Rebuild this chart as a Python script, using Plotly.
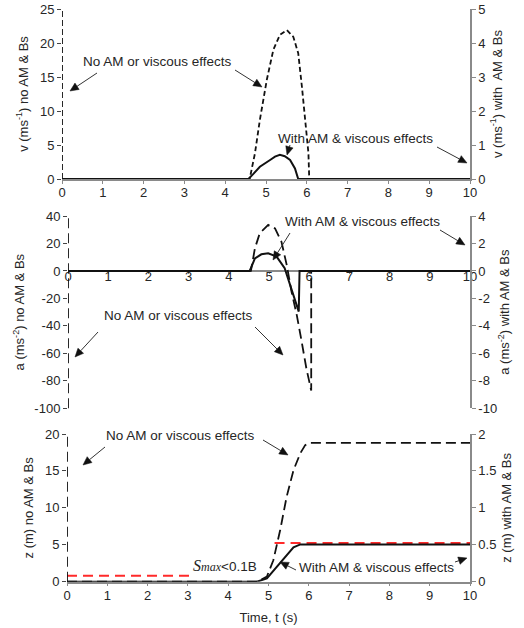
import plotly.graph_objects as go
import math

# ---------------- data ----------------
t_ticks = list(range(0, 11))

# velocity panel
t_v_no = [0, 4.6, 4.73, 4.85, 5.02, 5.18, 5.34, 5.51, 5.67, 5.79, 5.88, 5.96, 6.04, 6.06, 10]
v_no = [0, 0, 3.8, 8.7, 14.6, 19.0, 21.2, 21.9, 20.9, 18.5, 13.6, 8.7, 3.8, 0, 0]
t_v_with = [0, 4.57, 4.69, 4.85, 5.10, 5.22, 5.34, 5.46, 5.59, 5.71, 5.79, 10]
v_with = [0, 0, 0.15, 0.36, 0.56, 0.66, 0.71, 0.67, 0.56, 0.31, 0, 0]

# acceleration panel
t_a_no = [0, 4.55, 4.65, 4.77, 4.98, 5.15, 5.31, 5.44, 5.56, 5.69, 5.81, 5.93, 6.05, 6.05, 10]
a_no = [0, 0, 16.5, 27.4, 33.5, 31.0, 21.3, 4.4, -15, -32, -51, -71, -87, 0, 0]
t_a_with = [0, 4.52, 4.65, 4.81, 4.98, 5.19, 5.39, 5.56, 5.74, 5.76, 10]
a_with = [0, 0, 0.92, 1.21, 1.28, 1.04, 0.2, -1.26, -2.96, 0, 0]

# displacement panel
t_z_no = [0, 4.72, 4.96, 5.12, 5.29, 5.45, 5.62, 5.79, 5.91, 6.03, 10]
z_no = [0, 0, 0.7, 2.9, 7.0, 11.5, 15.1, 17.4, 18.5, 18.8, 18.8]
t_z_with = [0, 4.71, 4.96, 5.21, 5.45, 5.62, 5.79, 10]
z_with = [0, 0, 0.045, 0.2, 0.36, 0.465, 0.505, 0.505]

# settlement thresholds (left axis units)
t_thr_low = [0, 3.15]
thr_low = [0.8, 0.8]
t_thr_high = [5.15, 10]
thr_high = [5.25, 5.25]

# tick values / labels
v_left_ticks = [0, 5, 10, 15, 20, 25]
v_right_ticks = [0, 1, 2, 3, 4, 5]
a_left_ticks = [-100, -80, -60, -40, -20, 0, 20, 40]
a_right_ticks = [-10, -8, -6, -4, -2, 0, 2, 4]
z_left_ticks = [0, 5, 10, 15, 20]
z_right_ticks = [0, 0.5, 1, 1.5, 2]

# ---------------- layout helpers ----------------
W, H = 524, 628
FONT = "Liberation Sans, Arial, sans-serif"
TXT = "#262626"
GRAY = "#8a8a8a"
BLK = "#111111"


def px(x):
    return x / W


def py(y):
    return 1 - y / H


def tt(vals):
    return [("%g" % v) for v in vals]


fig = go.Figure()

fig.add_trace(go.Scatter(x=t_v_no, y=v_no, xaxis="x", yaxis="y", mode="lines",
                         line=dict(color=BLK, width=1.8, dash="5px,3px")))
fig.add_trace(go.Scatter(x=t_v_with, y=v_with, xaxis="x", yaxis="y2", mode="lines",
                         line=dict(color=BLK, width=2)))

fig.add_trace(go.Scatter(x=t_a_no, y=a_no, xaxis="x2", yaxis="y3", mode="lines",
                         line=dict(color=BLK, width=1.8, dash="10px,5px")))
fig.add_trace(go.Scatter(x=t_a_with, y=a_with, xaxis="x2", yaxis="y4", mode="lines",
                         line=dict(color=BLK, width=2)))

fig.add_trace(go.Scatter(x=t_thr_low, y=thr_low, xaxis="x3", yaxis="y5", mode="lines",
                         line=dict(color="#ff2a2a", width=2, dash="10px,6px")))
fig.add_trace(go.Scatter(x=t_thr_high, y=thr_high, xaxis="x3", yaxis="y5", mode="lines",
                         line=dict(color="#ff2a2a", width=2, dash="10px,6px")))
fig.add_trace(go.Scatter(x=t_z_no, y=z_no, xaxis="x3", yaxis="y5", mode="lines",
                         line=dict(color=BLK, width=1.8, dash="10px,5px")))
fig.add_trace(go.Scatter(x=t_z_with, y=z_with, xaxis="x3", yaxis="y6", mode="lines",
                         line=dict(color=BLK, width=2)))

tickfont = dict(family=FONT, size=13, color=TXT)
titlefont = dict(family=FONT, size=13, color=TXT)

xcommon = dict(range=[0, 10], tickvals=t_ticks, showgrid=False, zeroline=False,
               showline=True, linecolor=GRAY, linewidth=1.5, ticks="outside",
               ticklen=3, tickcolor=GRAY, tickfont=tickfont, layer="below traces",
               automargin=False, ticklabelstandoff=-2)
ycommon = dict(showgrid=False, zeroline=False, ticks="outside", ticklen=4,
               tickcolor="#444", tickfont=tickfont, title_font=titlefont,
               automargin=False)
yright = dict(showgrid=False, zeroline=False, ticks="outside", ticklen=4,
              tickcolor=GRAY, tickfont=tickfont, title_font=titlefont,
              showline=True, linecolor=GRAY, linewidth=1.5, side="right",
              automargin=False)

dom_top = [py(179), py(9)]
dom_mid = [py(408.3), py(216)]
dom_bot = [py(581.7), py(434)]

fig.update_layout(
    width=W, height=H,
    margin=dict(l=0, r=0, t=0, b=0, pad=0),
    paper_bgcolor="white", plot_bgcolor="white",
    showlegend=False,
    font=dict(family=FONT, color=TXT, size=13),
    xaxis=dict(xcommon, domain=[px(62), px(470)], anchor="y"),
    yaxis=dict(ycommon, domain=dom_top, range=[0, 25], tickvals=v_left_ticks,
               ticktext=tt(v_left_ticks), anchor="x",
               title=dict(text="v (ms<sup>-1</sup>) no AM & Bs", standoff=8)),
    yaxis2=dict(yright, range=[0, 5], tickvals=v_right_ticks, ticktext=tt(v_right_ticks),
                overlaying="y", anchor="x",
                title=dict(text="v (ms<sup>-1</sup>) with  AM & Bs", standoff=8)),
    xaxis2=dict(xcommon, domain=[px(68), px(470)], anchor="free", position=py(271),
                ticklen=2, ticklabelstandoff=-8),
    yaxis3=dict(ycommon, domain=dom_mid, range=[-100, 40], tickvals=a_left_ticks,
                ticktext=tt(a_left_ticks), anchor="x2",
                title=dict(text="a (ms<sup>-2</sup>) no AM & Bs", standoff=6)),
    yaxis4=dict(yright, range=[-10, 4], tickvals=a_right_ticks, ticktext=tt(a_right_ticks),
                overlaying="y3", anchor="x2",
                title=dict(text="a (ms<sup>-2</sup>) with AM & Bs", standoff=4)),
    xaxis3=dict(xcommon, domain=[px(67), px(470)], anchor="y5",
                title=dict(text="Time, t (s)", font=titlefont, standoff=11)),
    yaxis5=dict(ycommon, domain=dom_bot, range=[0, 20], tickvals=z_left_ticks,
                ticktext=tt(z_left_ticks), anchor="x3",
                title=dict(text="z (m) no AM & Bs", standoff=8)),
    yaxis6=dict(yright, range=[0, 2], tickvals=z_right_ticks, ticktext=tt(z_right_ticks),
                overlaying="y5", anchor="x3",
                title=dict(text="z (m) with AM & Bs", standoff=6)),
)

# dashed left axis lines (matching the "no AM" dashed series)
for xr, yr, dash in [("x", "y", "6px,3px"), ("x2", "y3", "10px,5px"), ("x3", "y5", "10px,5px")]:
    fig.add_shape(type="line", xref=xr, yref=yr + " domain", x0=0, x1=0, y0=0, y1=1,
                  line=dict(color=BLK, width=1.8, dash=dash))

ann_font = dict(family=FONT, size=13.5, color=TXT)


def label(text, cx, cy):
    fig.add_annotation(text=text, x=px(cx), y=py(cy), xref="paper", yref="paper",
                       showarrow=False, font=ann_font, xanchor="center", yanchor="middle")


def arrow(tx, ty, hx, hy, L=8.5, hw=3.8):
    """Pointer drawn as shapes: a thin line plus a filled triangular head (page pixels)."""
    dx, dy = hx - tx, hy - ty
    d = math.hypot(dx, dy) or 1.0
    ux, uy = dx / d, dy / d
    bx, by = hx - ux * L, hy - uy * L
    nx, ny = -uy, ux
    fig.add_shape(type="line", xref="paper", yref="paper",
                  x0=px(tx), y0=py(ty), x1=px(bx), y1=py(by),
                  line=dict(color="#333", width=1))
    p1 = (bx + nx * hw, by + ny * hw)
    p2 = (bx - nx * hw, by - ny * hw)
    path = "M %f %f L %f %f L %f %f Z" % (px(hx), py(hy), px(p1[0]), py(p1[1]),
                                          px(p2[0]), py(p2[1]))
    fig.add_shape(type="path", xref="paper", yref="paper", path=path,
                  fillcolor="#111", line=dict(color="#111", width=0.5))


# top panel
label("No AM or viscous effects", 157, 62)
arrow(97, 73, 70, 91)
arrow(235, 70, 262, 87)
label("With AM & viscous effects", 355, 138)
arrow(290, 145, 287, 155)
arrow(437, 147, 467, 163)

# middle panel
label("With AM & viscous effects", 362, 221)
arrow(290, 233, 273, 260)
arrow(440, 230, 465, 245)
label("No AM or viscous effects", 178, 315)
arrow(98, 332, 75, 357)
arrow(255, 327, 283, 355)

# bottom panel
label("No AM or viscous effects", 180, 435)
arrow(105, 447, 83, 465)
arrow(263, 440, 288, 455)
label("With AM & viscous effects", 376, 567)
arrow(296, 570, 280, 562)
arrow(455, 562, 467, 558)
label("<span style='font-family:Liberation Serif;font-size:16px'><i>S</i></span>"
      "<span style='font-family:Liberation Serif;font-size:12px'><i>max</i></span>&lt;0.1B",
      225, 565)

fig.write_html("out.html",
               config={"displayModeBar": False},
               post_script="document.body.style.margin='0';document.body.style.overflow='hidden';")
